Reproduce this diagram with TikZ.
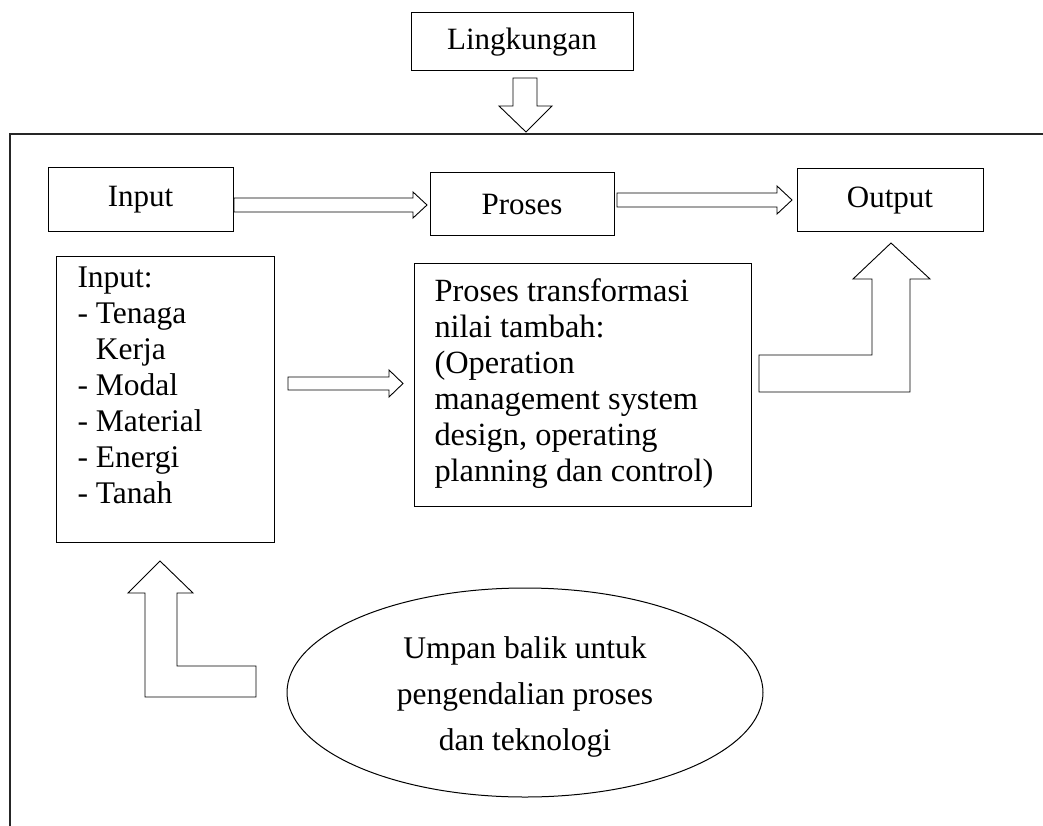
\documentclass[tikz,border=0pt]{standalone}
\usepackage{fontspec}
\setmainfont{Liberation Serif}
\usetikzlibrary{shapes.geometric}
\begin{document}
\begin{tikzpicture}[x=1pt,y=-1pt,line width=1pt,
  box/.style={draw,rectangle,inner sep=0pt},
  lbl/.style={font=\fontsize{31}{36}\selectfont},
  biglbl/.style={font=\fontsize{32.4}{36}\selectfont},
  fatarrow/.style={draw,line width=0.9pt,line join=miter}]
\useasboundingbox (0,0) rectangle (1043,826);

% outer frame (cut off at right and bottom)
\coordinate (ftl) at (10,134);
\coordinate (ftr) at (1050,134);
\coordinate (fbl) at (10,835);
\draw[line width=1.2pt,black!85] (ftr) -- (ftl) -- (fbl);

% boxes
\node[box,lbl,minimum width=222,minimum height=58] (ling) at (522,42) {Lingkungan};
\node[box,lbl,minimum width=185,minimum height=64] (inp) at (140.5,200) {Input};
\node[box,lbl,minimum width=184,minimum height=63] (pro) at (522,204.5) {Proses};
\node[box,lbl,minimum width=186,minimum height=63] (out) at (890,200.5) {Output};

\node[box,minimum width=218,minimum height=286,anchor=north west] (inbox) at (56,256) {};
\node[font=\fontsize{31.5}{36}\selectfont,anchor=base west,align=left,inner sep=0pt] (inlist) at (77,503)
  {Input:\\- Tenaga\\\phantom{- }Kerja\\- Modal\\- Material\\- Energi\\- Tanah};

\node[box,minimum width=337,minimum height=243,anchor=north west] (tbox) at (414,263) {};
\node[biglbl,anchor=base west,align=left,inner sep=0pt] (tlist) at (434,481)
  {Proses transformasi\\nilai tambah:\\(Operation\\management system\\design, operating\\planning dan control)};

\node[draw,ellipse,minimum width=476,minimum height=209,inner sep=0pt] (fb) at (525,692.5) {};
\node[font=\fontsize{31.5}{46}\selectfont,align=center,anchor=base,inner sep=0pt] (fbt) at (525,750)
  {Umpan balik untuk\\pengendalian proses\\dan teknologi};

% block arrows
\draw[fatarrow] (513,78) -- (537,78) -- (537,106) -- (552,106) -- (526,132) -- (499,106) -- (513,106) -- cycle;
\draw[fatarrow] (234,198) -- (413,198) -- (413,192) -- (427,205) -- (413,218) -- (413,212) -- (234,212) -- cycle;
\draw[fatarrow] (617,193) -- (777,193) -- (777,186) -- (792,200) -- (777,214) -- (777,207) -- (617,207) -- cycle;
\draw[fatarrow] (288,377) -- (389,377) -- (389,370) -- (403,383.5) -- (389,397) -- (389,390) -- (288,390) -- cycle;
\draw[fatarrow] (759,355) -- (872,355) -- (872,279) -- (853,279) -- (891,243) -- (930,279) -- (910,279) -- (910,392) -- (759,392) -- cycle;
\draw[fatarrow] (160,561) -- (193,593) -- (177,593) -- (177,666) -- (256,666) -- (256,697) -- (145,697) -- (145,593) -- (128,593) -- cycle;
\end{tikzpicture}
\end{document}
